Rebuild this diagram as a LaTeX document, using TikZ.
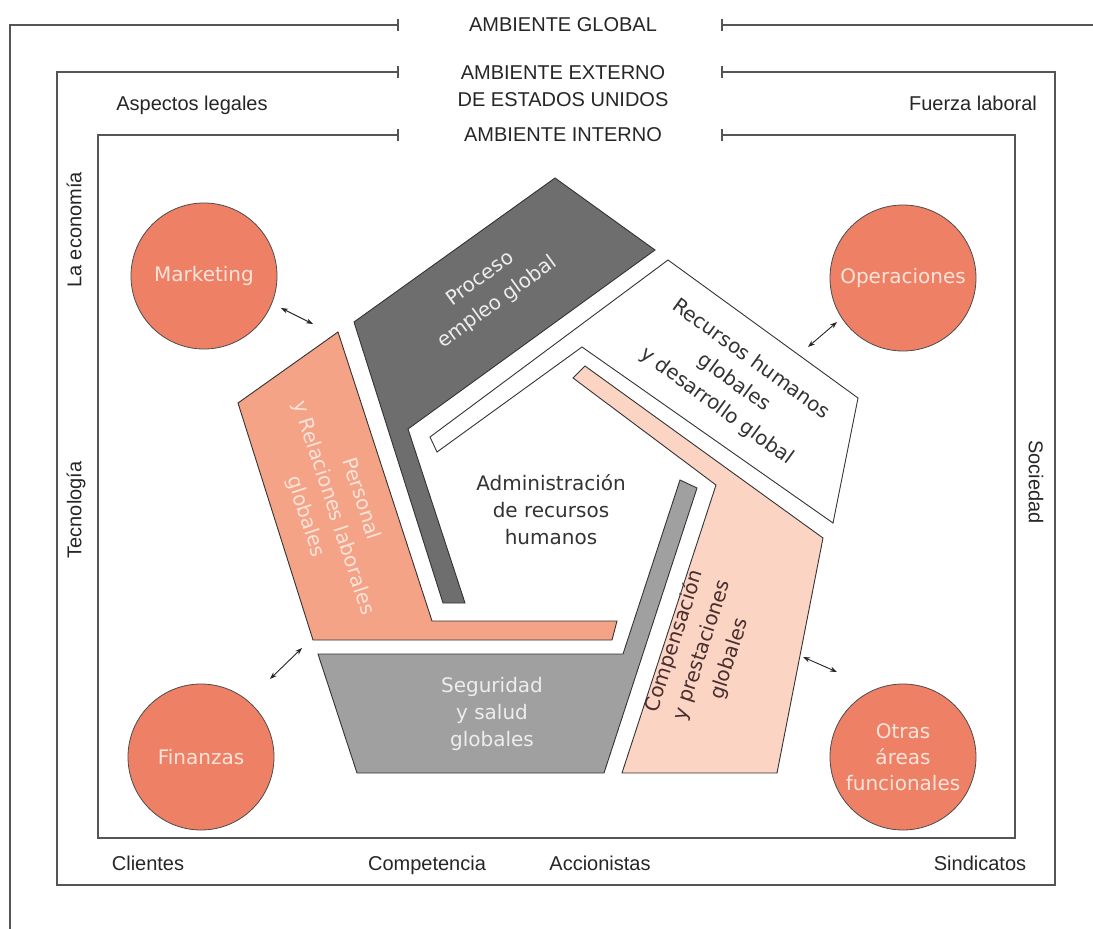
\documentclass[tikz,border=0pt]{standalone}
\usepackage{fontspec}
\setmainfont{Liberation Sans}
\newfontfamily\dvs{DejaVu Sans}
\usetikzlibrary{arrows.meta}
\definecolor{circfill}{HTML}{EE8066}
\definecolor{salm}{HTML}{F4A387}
\definecolor{peach}{HTML}{FBD4C4}
\definecolor{dgray}{HTML}{6E6E6E}
\definecolor{lgray}{HTML}{A0A0A0}
\definecolor{framec}{HTML}{555555}
\definecolor{lighttext}{HTML}{EDEDED}
\definecolor{pinktext}{HTML}{FCE4DA}
\definecolor{darktext}{HTML}{333333}
\begin{document}
\begin{tikzpicture}[x=1pt,y=-1pt,
  framel/.style={draw=framec,line width=1.3pt},
  piece/.style={draw=black!80,line width=0.9pt},
  lab/.style={font=\fontsize{20}{27}\selectfont, text=black!85, inner sep=0pt},
  ctr/.style={font=\dvs\fontsize{20}{27}\selectfont, align=center, inner sep=0pt},
  rctr/.style={font=\dvs\fontsize{20}{29}\selectfont, align=center, inner sep=0pt},
  circnode/.style={circle, draw=black!70, line width=0.8pt, fill=circfill, minimum size=146pt, inner sep=0pt,
     font=\dvs\fontsize{20}{26}\selectfont, text=pinktext, align=center},
  link/.style={{Stealth[length=7pt,width=5pt]}-{Stealth[length=7pt,width=5pt]}, line width=0.9pt, draw=black!85}
]
\useasboundingbox (0,0) rectangle (1093,929);
\fill[white] (0,0) rectangle (1093,929);

% frames
\draw[framel] (398,25) -- (10,25) -- (10,940);
\draw[framel] (722,25) -- (1100,25);
\draw[framel] (398,19) -- (398,31);
\draw[framel] (722,19) -- (722,31);

\draw[framel] (398,72) -- (57,72) -- (57,885) -- (1055,885) -- (1055,72) -- (722,72);
\draw[framel] (398,66) -- (398,78);
\draw[framel] (722,66) -- (722,78);

\draw[framel] (398,135) -- (98,135) -- (98,838) -- (1015,838) -- (1015,135) -- (722,135);
\draw[framel] (398,129) -- (398,141);
\draw[framel] (722,129) -- (722,141);

% frame labels
\node[lab] (ag) at (563,25) {AMBIENTE GLOBAL};
\node[lab,align=center] (ae) at (563,86) {AMBIENTE EXTERNO\\DE ESTADOS UNIDOS};
\node[lab] (ai) at (563,135) {AMBIENTE INTERNO};
\node[lab,anchor=base] (al) at (192,110) {Aspectos legales};
\node[lab,anchor=base] (fl) at (973,110) {Fuerza laboral};
\node[lab,rotate=90] (eco) at (74,230) {La economía};
\node[lab,rotate=90] (tec) at (76,510) {Tecnología};
\node[lab,rotate=-90] (soc) at (1036,482) {Sociedad};
\node[lab,anchor=base] (cli) at (148,870) {Clientes};
\node[lab,anchor=base] (com) at (427,870) {Competencia};
\node[lab,anchor=base] (acc) at (600,870) {Accionistas};
\node[lab,anchor=base] (sin) at (980,870) {Sindicatos};

% pentagon pieces
\path[piece,fill=salm] (238,403) -- (338,332) -- (432,621) -- (617,621) -- (612,640) -- (313,640) -- cycle;
\path[piece,fill=dgray] (354,322) -- (555,178) -- (655,250) -- (408,429) -- (465,603) -- (443,603) -- cycle;
\path[piece,fill=white] (668,260) -- (858,398) -- (833,523) -- (582,347) -- (437,452) -- (430,437) -- cycle;
\path[piece,fill=peach] (585,366) -- (823,538) -- (777,773) -- (622,773) -- (716,485) -- (573,378) -- cycle;
\path[piece,fill=lgray] (318,654) -- (623,654) -- (680,480) -- (697,488) -- (604,773) -- (357,773) -- cycle;

% piece labels
\node[rctr,text=lighttext,rotate=36] (pe) at (489,291) {Proceso\\empleo global};
\node[rctr,text=darktext,rotate=-36] (rh) at (734,383) {Recursos humanos\\globales\\y desarrollo global};
\node[rctr,text=darktext!90!red,rotate=72] (cp) at (702,650) {Compensación\\y prestaciones\\globales};
\node[ctr,text=lighttext] (sg) at (492,714) {Seguridad\\y salud\\globales};
\node[rctr,text=pinktext,rotate=-72] (pr) at (333,508) {Personal\\y Relaciones laborales\\globales};
\node[ctr,text=darktext] (adm) at (551,510) {Administración\\de recursos\\humanos};

% circles
\node[circnode] (mkt) at (204,276) {Marketing};
\node[circnode] (ope) at (903,278) {Operaciones};
\node[circnode] (fin) at (201,757) {Finanzas};
\node[circnode] (otr) at (903,757) {Otras\\áreas\\funcionales};

% arrows
\coordinate (a1s) at (281,308); \coordinate (a1e) at (313,324);
\coordinate (a2s) at (808,347); \coordinate (a2e) at (837,322);
\coordinate (a3s) at (270,679); \coordinate (a3e) at (302,648);
\coordinate (a4s) at (803,657); \coordinate (a4e) at (837,672);
\draw[link] (a1s) -- (a1e);
\draw[link] (a2s) -- (a2e);
\draw[link] (a3s) -- (a3e);
\draw[link] (a4s) -- (a4e);
\end{tikzpicture}
\end{document}
